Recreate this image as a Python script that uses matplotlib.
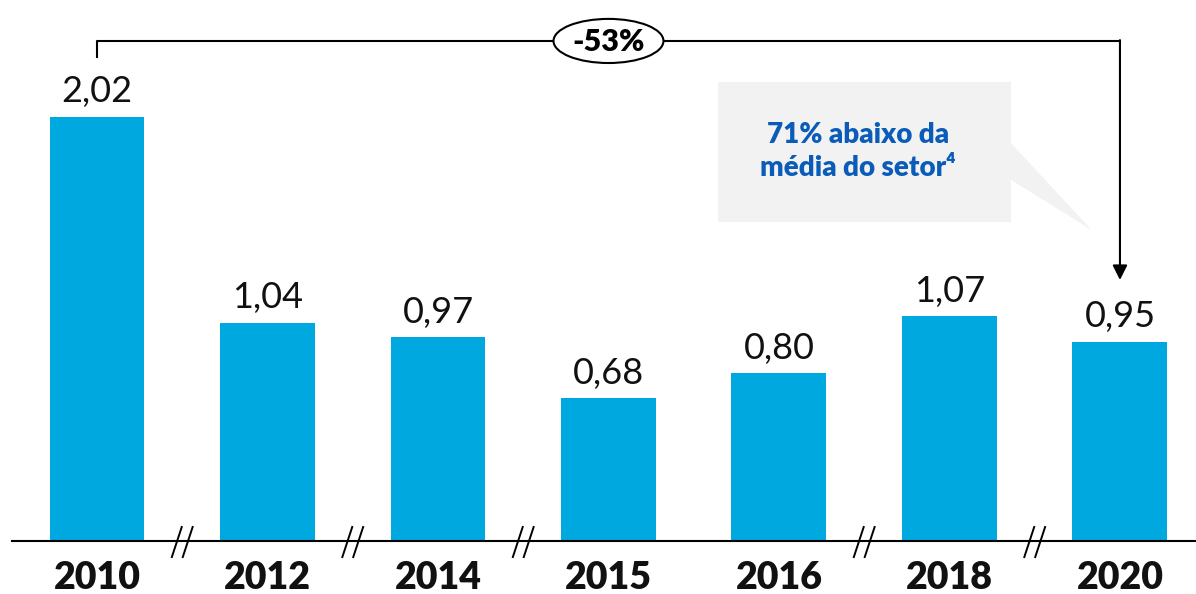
import matplotlib.pyplot as plt
from matplotlib.patches import Ellipse, Rectangle, Polygon

years = ['2010', '2012', '2014', '2015', '2016', '2018', '2020']
values = [2.02, 1.04, 0.97, 0.68, 0.80, 1.07, 0.95]
labels = ['2,02', '1,04', '0,97', '0,68', '0,80', '1,07', '0,95']
break_after = [0, 1, 2, 4, 5]  # gaps in the year sequence
change_label = '-53%'
note = '71% abaixo da\nmédia do setor⁴'

plt.rcParams['font.family'] = ['Lato', 'DejaVu Sans']

fig = plt.figure(figsize=(11.96, 5.94), dpi=100)
ax = fig.add_axes([0, 0, 1, 1])
ax.set_xlim(-0.569, 6.446)
ax.set_ylim(-0.252, 2.576)
ax.axis('off')

x = list(range(len(years)))
ax.bar(x, values, width=0.557, color='#00A8E0', zorder=2)

for xi, v, lab in zip(x, values, labels):
    ax.annotate(lab, (xi, v), xytext=(0, 6), textcoords='offset points',
                ha='center', va='bottom', fontsize=26, color='#111111')
    ax.text(xi, -0.176, years[xi], ha='center', va='center',
            fontsize=27, fontweight='heavy', color='#111111')

# baseline with break marks
ax.plot([-0.5, 6.446], [0, 0], color='black', lw=1.5, zorder=3)
for b in break_after:
    bx = b + 0.5
    for dx in (-0.032, 0.032):
        ax.plot([bx + dx - 0.029, bx + dx + 0.029], [-0.076, 0.067],
                color='black', lw=1.4, zorder=4)

# bracket from first to last bar
top = 2.381
ax.plot([0, 0, 6], [2.305, top, top], color='black', lw=1.5, zorder=3)
ax.annotate('', xy=(6, 1.243), xytext=(6, top + 0.004),
            arrowprops=dict(arrowstyle='-|>', color='black', lw=1.5,
                            mutation_scale=22, shrinkA=0, shrinkB=0))
ax.add_patch(Ellipse((3.0, top), 0.645, 0.21, facecolor='white',
                     edgecolor='black', lw=1.5, zorder=5))
ax.text(3.0, top - 0.005, change_label, ha='center', va='center', fontsize=22,
        fontweight='heavy', zorder=6)

# callout
ax.add_patch(Rectangle((3.642, 1.519), 1.719, 0.667, facecolor='#F2F2F2',
                       edgecolor='none', zorder=1))
ax.add_patch(Polygon([(5.36, 1.895), (5.36, 1.72), (5.836, 1.48)],
                     closed=True, facecolor='#F2F2F2', edgecolor='none',
                     zorder=1))
ax.text(4.463, 1.855, note, ha='center', va='center', fontsize=20,
        fontweight='heavy', color='#0A5CB8', linespacing=1.3, zorder=2)

fig.savefig('out.png', dpi=100)
